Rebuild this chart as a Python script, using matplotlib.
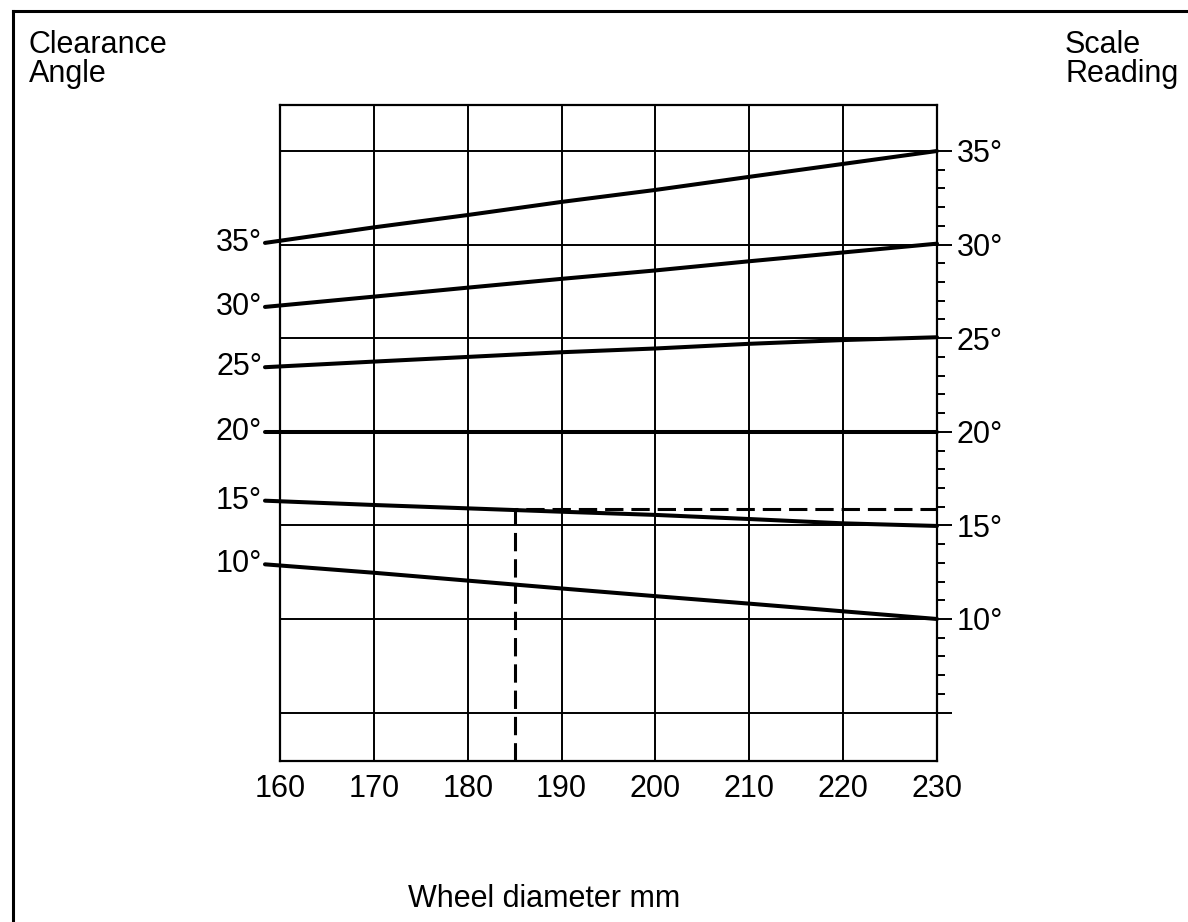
import matplotlib
matplotlib.use("Agg")
import matplotlib.pyplot as plt
from matplotlib.lines import Line2D
from matplotlib.ticker import FixedLocator

plt.rcParams['font.family'] = ['Liberation Sans', 'DejaVu Sans']

# ---- data ----
line_x = [158.4, 170, 180, 190, 200, 210, 220, 230]          # wheel diameter, mm
clearance_angles = [35, 30, 25, 20, 15, 10]                   # degrees
scale_35 = [30.09, 30.92, 31.58, 32.28, 32.92, 33.62, 34.31, 35.00]
scale_30 = [26.67, 27.22, 27.70, 28.17, 28.62, 29.11, 29.58, 30.05]
scale_25 = [23.45, 23.75, 24.00, 24.25, 24.45, 24.70, 24.90, 25.05]
scale_20 = [20.00, 20.00, 20.00, 20.00, 20.00, 20.00, 20.00, 20.00]
scale_15 = [16.32, 16.09, 15.91, 15.73, 15.56, 15.34, 15.11, 14.97]
scale_10 = [12.92, 12.47, 12.05, 11.63, 11.22, 10.82, 10.41, 10.00]
scale_series = [scale_35, scale_30, scale_25, scale_20, scale_15, scale_10]

x_ticks = [160, 170, 180, 190, 200, 210, 220, 230]
x_tick_labels = ["160", "170", "180", "190", "200", "210", "220", "230"]
right_major = [5, 10, 15, 20, 25, 30, 35]
right_labels = ["", "10°", "15°", "20°", "25°", "30°", "35°"]

example_diam = 185
example_reading = 15.9

FS = 22

# ---- figure ----
W, H = 1188, 922
fig = plt.figure(figsize=(W / 100, H / 100), dpi=100)
ax = fig.add_axes([280 / W, 1 - 761 / H, (937 - 280) / W, (761 - 105) / H])
ax.set_xlim(160, 230)
ax.set_ylim(2.414, 37.457)

# grid
ax.set_xticks(x_ticks)
ax.set_xticklabels(x_tick_labels, fontsize=FS)
ax.yaxis.set_major_locator(FixedLocator(right_major))
ax.set_yticklabels(right_labels, fontsize=FS)
ax.yaxis.set_minor_locator(FixedLocator([v for v in range(5, 36) if v % 5]))
ax.grid(True, which='major', color='black', lw=1.4)
ax.set_axisbelow(True)

ax.yaxis.tick_right()
ax.tick_params(axis='y', which='major', direction='out', length=11, width=1.4,
               pad=3, colors='black')
ax.tick_params(axis='y', which='minor', direction='out', length=6, width=1.4)
ax.tick_params(axis='x', length=0, pad=9)
for s in ax.spines.values():
    s.set_linewidth(1.6)

# clearance-angle lines
for ang, vals in zip(clearance_angles, scale_series):
    ax.plot(line_x, vals, color='black', lw=2.9, solid_capstyle='round',
            clip_on=False, zorder=3)
    ax.text(line_x[0] - 0.3, vals[0], f"{ang}°", ha='right', va='center',
            fontsize=FS)

# worked example (dashed)
ax.plot([example_diam, example_diam, 230],
        [ax.get_ylim()[0], example_reading, example_reading],
        color='black', lw=2.2, dashes=(6, 2.6), zorder=4)

# texts
fig.text(29 / W, 1 - 30 / H, "Clearance\nAngle", ha='left', va='top',
         fontsize=FS, linespacing=0.95)
fig.text(1065 / W, 1 - 30 / H, "Scale\nReading", ha='left', va='top',
         fontsize=FS, linespacing=0.95)
fig.text(408 / W, 1 - 907 / H, "Wheel diameter mm", ha='left', va='baseline',
         fontsize=FS)

# page border (left and top)
fig.add_artist(Line2D([13 / W, 13 / W], [0, 1 - 11 / H], transform=fig.transFigure,
                      color='black', lw=2.2))
fig.add_artist(Line2D([13 / W, 1], [1 - 11 / H, 1 - 11 / H], transform=fig.transFigure,
                      color='black', lw=2.2))

fig.savefig("out.png", dpi=100)
